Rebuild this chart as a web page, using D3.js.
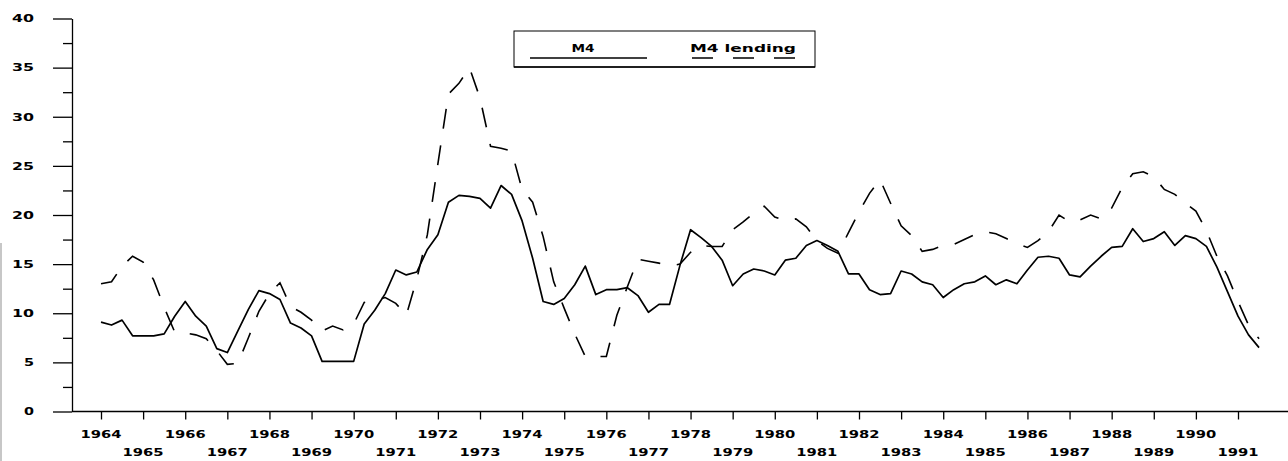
<!DOCTYPE html>
<html>
<head>
<meta charset="utf-8">
<script src="https://cdn.jsdelivr.net/npm/d3@7"></script>
<style>
body { margin: 0; background: #fff; }
text { font-family: "DejaVu Sans", sans-serif; font-weight: bold; fill: #000; }
</style>
</head>
<body>
<div id="chart"></div>
<script>
// quarterly growth rates, 1964 Q1 onwards
var startYear = 1964;

var m4 = [9.1, 8.8, 9.3, 7.7, 7.7, 7.7, 7.9, 9.7, 11.2, 9.7,
    8.7, 6.4, 6.0, 8.2, 10.4, 12.3, 12.0, 11.4, 9.0, 8.5,
    7.7, 5.1, 5.1, 5.1, 5.1, 8.9, 10.3, 12.0, 14.4, 13.9,
    14.2, 16.5, 18.0, 21.3, 22.0, 21.9, 21.7, 20.7, 23.0, 22.1,
    19.4, 15.6, 11.2, 10.9, 11.5, 12.9, 14.8, 11.9, 12.4, 12.4,
    12.6, 11.8, 10.1, 10.9, 10.9, 14.9, 18.5, 17.7, 16.8, 15.4,
    12.8, 14.0, 14.5, 14.3, 13.9, 15.4, 15.6, 16.9, 17.4, 16.9,
    16.3, 14.0, 14.0, 12.4, 11.9, 12.0, 14.3, 14.0, 13.2, 12.9,
    11.6, 12.4, 13.0, 13.2, 13.8, 12.9, 13.4, 13.0, 14.4, 15.7,
    15.8, 15.6, 13.9, 13.7, 14.8, 15.8, 16.7, 16.8, 18.6, 17.3,
    17.6, 18.3, 16.9, 17.9, 17.6, 16.8, 14.7, 12.2, 9.7, 7.8,
    6.5];

var m4Lending = [13.0, 13.2, 14.8, 15.8, 15.2, 13.4, 10.6, 8.1, 8.0, 7.8,
    7.4, 6.2, 4.8, 4.9, 7.5, 10.2, 12.0, 13.1, 10.7, 10.1,
    9.3, 8.2, 8.7, 8.3, 8.9, 11.1, 11.3, 11.6, 11.0, 9.8,
    13.5, 18.0, 25.2, 32.3, 33.4, 35.0, 31.9, 27.0, 26.8, 26.5,
    22.6, 21.3, 17.8, 13.2, 10.5, 7.9, 5.6, 5.6, 5.6, 9.8,
    12.7, 15.5, 15.3, 15.1, 14.8, 15.0, 16.2, 16.9, 16.8, 16.8,
    18.5, 19.3, 20.2, 20.9, 19.8, 19.4, 19.6, 18.8, 17.4, 16.6,
    16.1, 18.2, 20.3, 22.2, 23.6, 21.2, 18.9, 17.9, 16.3, 16.5,
    16.9, 17.0, 17.5, 18.0, 18.3, 18.1, 17.6, 17.1, 16.7, 17.4,
    18.3, 20.0, 19.3, 19.5, 20.0, 19.6, 20.7, 22.8, 24.2, 24.4,
    23.9, 22.6, 22.1, 21.2, 20.4, 18.4, 15.8, 13.8, 11.2, 8.8,
    7.4];

var yearTicks = [1964, 1965, 1966, 1967, 1968, 1969, 1970, 1971, 1972, 1973,
    1974, 1975, 1976, 1977, 1978, 1979, 1980, 1981, 1982, 1983,
    1984, 1985, 1986, 1987, 1988, 1989, 1990, 1991];
var yTicks = [0, 5, 10, 15, 20, 25, 30, 35, 40];
var yMinor = [2.5, 7.5, 12.5, 17.5, 22.5, 27.5, 32.5, 37.5];
var seriesNames = ["M4", "M4 lending"];

var svgWidth = 1288;
var svgHeight = 461;
var axisX = 72;
var baseY = 411.5;

var svg = d3.select("#chart")
    .append("svg")
    .attr("width", svgWidth)
    .attr("height", svgHeight);

var x = d3.scaleLinear().domain([1964, 1991]).range([101, 1238]);
var y = d3.scaleLinear().domain([0, 40]).range([baseY, 18.5]);

// faint scan edge on the left
svg.append("line")
    .attr("x1", 1).attr("x2", 1)
    .attr("y1", 243).attr("y2", svgHeight)
    .attr("stroke", "#b5b5b5")
    .attr("stroke-width", 1.5);

// y axis
var yAxis = svg.append("g")
    .attr("transform", "translate(" + axisX + ",0)")
    .call(d3.axisLeft(y).tickValues(yTicks).tickSize(19).tickSizeOuter(0).tickFormat(""));
yAxis.select(".domain").attr("stroke", "#000").attr("stroke-width", 1.3);
yAxis.selectAll(".tick line").attr("stroke", "#000").attr("stroke-width", 1.3);

var yMinorAxis = svg.append("g")
    .attr("transform", "translate(" + axisX + ",0)")
    .call(d3.axisLeft(y).tickValues(yMinor).tickSize(9).tickFormat(""));
yMinorAxis.select(".domain").remove();
yMinorAxis.selectAll(".tick line").attr("stroke", "#000").attr("stroke-width", 1.3);

svg.selectAll(".ylabel")
    .data(yTicks)
    .enter()
    .append("text")
    .attr("class", "ylabel")
    .attr("x", 34)
    .attr("y", function(d) { return y(d); })
    .attr("dy", "0.36em")
    .attr("text-anchor", "end")
    .attr("textLength", function(d) { return String(d).length == 1 ? 10 : 22; })
    .attr("lengthAdjust", "spacingAndGlyphs")
    .style("font-size", "10.5px")
    .text(function(d) { return d; });

// x axis
svg.append("line")
    .attr("x1", axisX).attr("x2", svgWidth)
    .attr("y1", baseY).attr("y2", baseY)
    .attr("stroke", "#000")
    .attr("stroke-width", 1.4);

var xAxis = svg.append("g")
    .attr("transform", "translate(0," + baseY + ")")
    .call(d3.axisBottom(x).tickValues(yearTicks).tickSize(8).tickSizeOuter(0).tickFormat(""));
xAxis.select(".domain").remove();
xAxis.selectAll(".tick line").attr("stroke", "#000").attr("stroke-width", 1.3);

svg.selectAll(".xlabel")
    .data(yearTicks)
    .enter()
    .append("text")
    .attr("class", "xlabel")
    .attr("x", function(d) { return x(d); })
    .attr("y", function(d) { return d % 2 == 0 ? 434 : 452; })
    .attr("dy", "0.36em")
    .attr("text-anchor", "middle")
    .attr("textLength", 41)
    .attr("lengthAdjust", "spacingAndGlyphs")
    .style("font-size", "10.5px")
    .text(function(d) { return d; });

// lines
var line = d3.line()
    .x(function(d, i) { return x(startYear + i / 4); })
    .y(function(d) { return y(d); });

svg.append("path")
    .datum(m4Lending)
    .attr("fill", "none")
    .attr("stroke", "#000")
    .attr("stroke-width", 1.6)
    .attr("stroke-dasharray", "20,17")
    .attr("d", line);

svg.append("path")
    .datum(m4)
    .attr("fill", "none")
    .attr("stroke", "#000")
    .attr("stroke-width", 1.7)
    .attr("stroke-linejoin", "round")
    .attr("d", line);

// legend
var legend = svg.append("g");
legend.append("rect")
    .attr("x", 514).attr("y", 31)
    .attr("width", 301).attr("height", 36)
    .attr("fill", "#fff")
    .attr("stroke", "#000")
    .attr("stroke-width", 1);
legend.append("line")
    .attr("x1", 514).attr("x2", 815)
    .attr("y1", 67).attr("y2", 67)
    .attr("stroke", "#000").attr("stroke-width", 1.6);

legend.append("text")
    .attr("x", 583).attr("y", 48).attr("dy", "0.36em")
    .attr("text-anchor", "middle")
    .attr("textLength", 23).attr("lengthAdjust", "spacingAndGlyphs")
    .style("font-size", "10.5px")
    .text(seriesNames[0]);
legend.append("text")
    .attr("x", 743).attr("y", 48).attr("dy", "0.36em")
    .attr("text-anchor", "middle")
    .attr("textLength", 106).attr("lengthAdjust", "spacingAndGlyphs")
    .style("font-size", "10.5px")
    .text(seriesNames[1]);

legend.append("line")
    .attr("x1", 530).attr("x2", 647)
    .attr("y1", 58).attr("y2", 58)
    .attr("stroke", "#000").attr("stroke-width", 1.5);
legend.append("line")
    .attr("x1", 692).attr("x2", 796)
    .attr("y1", 58).attr("y2", 58)
    .attr("stroke", "#000").attr("stroke-width", 1.5)
    .attr("stroke-dasharray", "21,20");
</script>
</body>
</html>
